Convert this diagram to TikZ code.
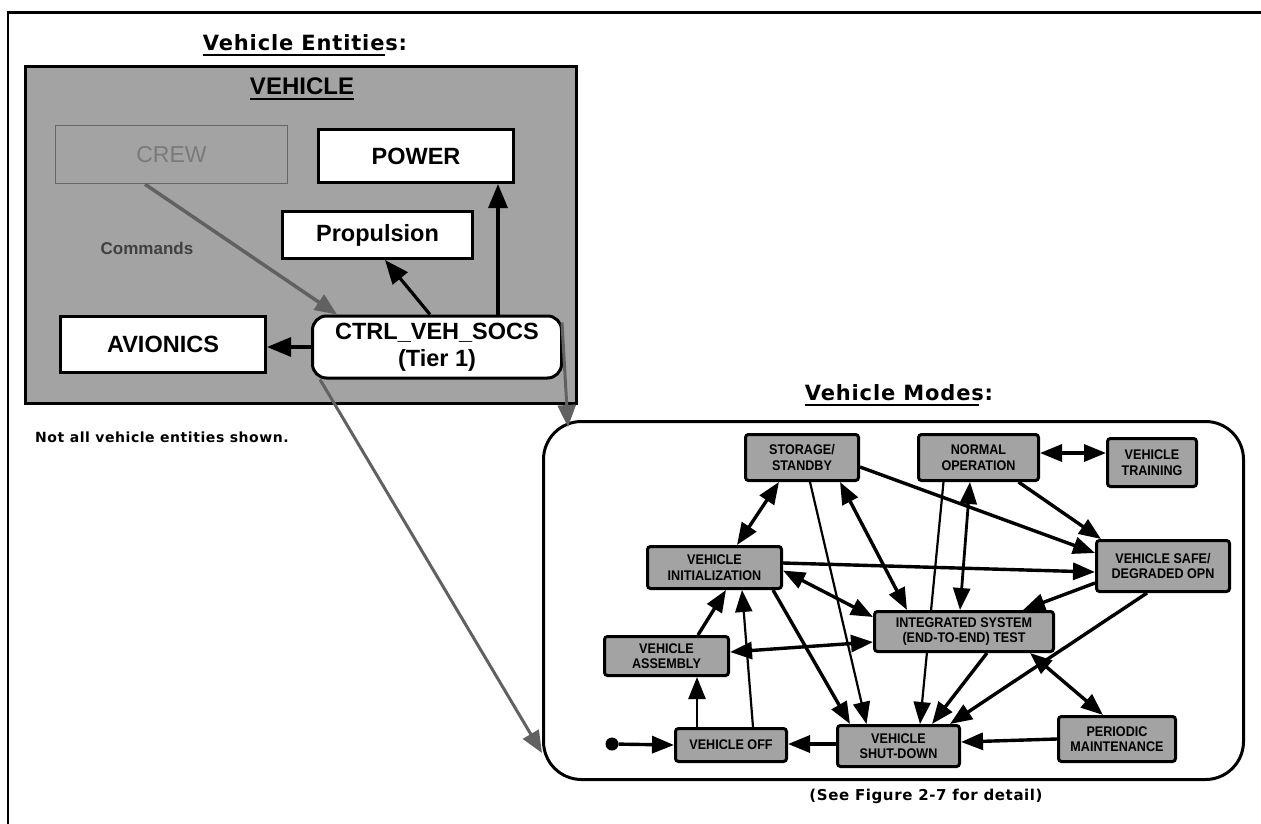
\documentclass[tikz,border=0pt]{standalone}
\usepackage{fontspec}
\setmainfont{Liberation Sans}
\newfontfamily\headfont{DejaVu Sans}[LetterSpace=4.0]
\newfontfamily\boxfont{Liberation Sans}
\newfontfamily\modefont{Liberation Sans}[FakeStretch=0.9]
\usetikzlibrary{arrows.meta,calc}
\pgfdeclarelayer{back}
\pgfdeclarelayer{edges}
\pgfsetlayers{back,edges,main}

\definecolor{dither}{gray}{0.64}
\definecolor{modefill}{gray}{0.64}
\definecolor{hatch}{gray}{0.38}

\tikzset{
  entity/.style={draw=black, line width=3pt, fill=white, inner sep=0pt, align=center,
    font=\boxfont\bfseries\fontsize{23.5}{27}\selectfont},
  mode/.style={draw=black, line width=3pt, fill=modefill, rounded corners=3pt, inner sep=0pt,
    align=center, font=\modefont\bfseries\fontsize{14}{15.5}\selectfont},
  head/.style={inner sep=0pt, font=\headfont\bfseries\fontsize{21}{24}\selectfont},
  note/.style={inner sep=0pt, font=\headfont\bfseries\fontsize{14}{16}\selectfont},
  uline/.style={line width=2.5pt},
  blk/.style={line width=3.2pt, -{Triangle[length=24pt,width=19pt]}},
  hatcharrow/.style={draw=hatch, line width=3.5pt, -{Triangle[length=22pt,width=18pt]}},
  tr/.style={line width=3.4pt, -{Triangle[length=22pt,width=17pt]}},
  trr/.style={line width=3.4pt, {Triangle[length=22pt,width=17pt]}-{Triangle[length=22pt,width=17pt]}},
  thn/.style={line width=2.2pt, -{Triangle[length=22pt,width=17pt]}},
}

\begin{document}
\begin{tikzpicture}[x=1pt,y=-1pt]
\useasboundingbox (0,0) rectangle (1261,824);
\begin{pgfonlayer}{back}
\fill[white] (0,0) rectangle (1261,824);
\end{pgfonlayer}

% page frame (top and left rules)
\draw[line width=3pt] (7,13) -- (1261,13);
\draw[line width=2.5pt] (8,13) -- (8,824);

% ---------------- vehicle entities ----------------
\node[head, anchor=base] (enttitle) at (305,51) {Vehicle Entities:};
\draw[uline] ([yshift=-4]enttitle.base west) -- ([xshift=-22,yshift=-4]enttitle.base east);

\node[draw=black, line width=3pt, fill=dither, minimum width=551, minimum height=337, inner sep=0pt]
  (vehicle) at (301,235) {};
\node[inner sep=0pt, anchor=base, font=\boxfont\bfseries\fontsize{24}{26}\selectfont] (vehtitle) at (302,95) {VEHICLE};
\draw[uline] ([yshift=-4]vehtitle.base west) -- ([yshift=-4]vehtitle.base east);

\node[draw=black!60, line width=1.5pt, fill=dither, minimum width=232, minimum height=58, inner sep=0pt,
  text=black!52, font=\boxfont\fontsize{23}{26}\selectfont] (crew) at (171.5,154.5) {CREW};
\node[entity, minimum width=195, minimum height=53] (power) at (416,156) {POWER};
\node[entity, minimum width=190, minimum height=47] (prop) at (377.5,235) {Propulsion};
\node[entity, minimum width=205, minimum height=56] (avionics) at (163,344.5) {AVIONICS};
\node[entity, rounded corners=14pt, minimum width=249, minimum height=62] (ctrl) at (437,347)
  {CTRL\_VEH\_SOCS\\(Tier 1)};

\node[inner sep=0pt, text=black!75, font=\boxfont\bfseries\fontsize{17}{19}\selectfont] (cmdlabel) at (147,248) {Commands};

\draw[hatcharrow] ([xshift=-26.5]crew.south) -- ([xshift=26]ctrl.north west);
\draw[blk] ([xshift=-7]ctrl.north) -- ([xshift=7.5]prop.south);
\draw[blk] ([xshift=61]ctrl.north) -- ([xshift=82]power.south);
\draw[blk] (ctrl.west) -- (avionics.east |- ctrl.west);

\node[note, anchor=base west] (notall) at (35,442) {Not all vehicle entities shown.};

% ---------------- vehicle modes ----------------
\node[head, anchor=base] (modetitle) at (899,400) {Vehicle Modes:};
\draw[uline] ([yshift=-5]modetitle.base west) -- ([xshift=-14,yshift=-5]modetitle.base east);

\begin{pgfonlayer}{back}
\node[draw=black, line width=3pt, fill=white, rounded corners=38pt, minimum width=700, minimum height=358,
  inner sep=0pt] (modes) at (893.5,600.5) {};
\end{pgfonlayer}

\node[note, font=\headfont\bfseries\fontsize{15}{17}\selectfont] (seefig) at (926,796) {(See Figure 2-7 for detail)};

\node[mode, minimum width=113, minimum height=46] (storage) at (802,457.5) {STORAGE/\\STANDBY};
\node[mode, minimum width=120, minimum height=46] (normal) at (978.5,457.5) {NORMAL\\OPERATION};
\node[mode, minimum width=89, minimum height=48] (training) at (1152,462.5) {VEHICLE\\TRAINING};
\node[mode, minimum width=134, minimum height=42] (init) at (714.5,567.5) {VEHICLE\\INITIALIZATION};
\node[mode, minimum width=133, minimum height=51] (safe) at (1163,566) {VEHICLE SAFE/\\DEGRADED OPN};
\node[mode, minimum width=179, minimum height=40] (integ) at (964,631.5) {INTEGRATED SYSTEM\\(END-TO-END) TEST};
\node[mode, minimum width=124, minimum height=39] (assembly) at (666.5,656) {VEHICLE\\ASSEMBLY};
\node[mode, minimum width=111, minimum height=33] (off) at (731,745) {VEHICLE OFF};
\node[mode, minimum width=122, minimum height=41] (shut) at (898.5,746) {VEHICLE\\SHUT-DOWN};
\node[mode, minimum width=117, minimum height=45] (periodic) at (1117,739) {PERIODIC\\MAINTENANCE};
\node[circle, fill=black, minimum size=13, inner sep=0pt] (start) at (612,744) {};

\begin{pgfonlayer}{edges}
\draw[trr] ([xshift=-23]storage.south) -- ([xshift=22.5]init.north);
\draw[thn] ([xshift=8]storage.south) -- ([xshift=-32]shut.north);
\draw[trr] ([xshift=38]storage.south) -- ([xshift=-57]integ.north);
\draw[tr] ([yshift=-9.5]storage.east) -- ([yshift=13]safe.west);
\draw[trr] ([yshift=4.5]normal.east) -- ([yshift=9.5]training.west);
\draw[tr] ([xshift=40]normal.south) -- ([xshift=6]safe.north west);
\draw[trr, line width=2.8pt] ([xshift=-8.5]normal.south) -- ([xshift=-4]integ.north);
\draw[thn] ([xshift=-35]normal.south) -- ([xshift=21.5]shut.north);
\draw[tr] ([yshift=4.5]init.east) -- ([yshift=-6]safe.west);
\draw[trr] ([yshift=-3]init.east) -- ([yshift=14.5]integ.west);
\draw[tr] ([xshift=58.5]init.south) -- ([xshift=-48.5]shut.north);
\draw[tr] ([xshift=31.5]assembly.north) -- ([xshift=11.5]init.south);
\draw[thn] ([xshift=22]off.north) -- ([xshift=27.5]init.south);
\draw[thn, line width=2.6pt] ([xshift=-34]off.north) -- ([xshift=30.5]assembly.south);
\draw[trr] ([yshift=4]assembly.east) -- ([yshift=-10.5]integ.west);
\draw[tr] ([yshift=-17]safe.west) -- ([xshift=59]integ.north);
\draw[tr] ([xshift=-16]safe.south) -- ([xshift=51.5]shut.north);
\draw[tr] ([xshift=23]integ.south) -- ([xshift=33.5]shut.north);
\draw[trr] ([xshift=66]integ.south) -- ([xshift=-14]periodic.north);
\draw[tr] (periodic.west) -- ([yshift=4]shut.east);
\draw[tr] ([yshift=2]shut.west) -- ([yshift=1]off.east);
\draw[tr] (start) -- (off.west);
\end{pgfonlayer}

% links from the controller into the modes
\draw[hatcharrow, line width=3pt] ([xshift=9]ctrl.south west) -- ([yshift=-152.5]modes.west);
\draw[hatcharrow, line width=3pt] ([xshift=-1,yshift=-8]ctrl.north east) -- ([xshift=26,yshift=-7]modes.north west);
\end{tikzpicture}
\end{document}
